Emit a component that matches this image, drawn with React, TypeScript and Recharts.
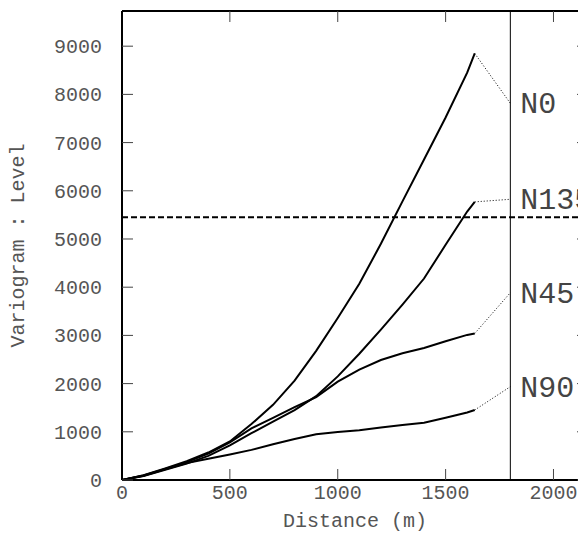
import {
  LineChart,
  Line,
  XAxis,
  YAxis,
  ReferenceLine,
} from "recharts";

// ---------------------------------------------------------------------------
// Data
// ---------------------------------------------------------------------------

const DISTANCES = [0, 100, 200, 300, 400, 500, 600, 700, 800, 900, 1000, 1100, 1200, 1300, 1400, 1500, 1600, 1635];

const N0_VALUES = [0, 100, 240, 390, 570, 800, 1160, 1560, 2060, 2680, 3360, 4070, 4900, 5780, 6650, 7520, 8450, 8850];
const N135_VALUES = [0, 85, 210, 340, 500, 720, 970, 1210, 1450, 1740, 2150, 2620, 3120, 3640, 4180, 4880, 5570, 5770];
const N45_VALUES = [0, 95, 230, 370, 550, 780, 1070, 1290, 1510, 1720, 2040, 2290, 2490, 2630, 2740, 2880, 3010, 3040];
const N90_VALUES = [0, 90, 220, 350, 440, 530, 625, 740, 850, 950, 995, 1030, 1090, 1140, 1190, 1290, 1400, 1452];

const SERIES_NAMES = ["N0", "N135", "N45", "N90"];
const SERIES_VALUES = [N0_VALUES, N135_VALUES, N45_VALUES, N90_VALUES];
// where each dotted leader meets the label column
const LABEL_ANCHORS = [7815, 5824, 3886, 1936];

const LABEL_X = 1800;
const SILL = 5450;
const X_TICKS = [0, 500, 1000, 1500, 2000];
const Y_TICKS = [0, 1000, 2000, 3000, 4000, 5000, 6000, 7000, 8000, 9000];
const X_MAX = 2160;
const Y_MAX = 9730;

// ---------------------------------------------------------------------------
// Styling
// ---------------------------------------------------------------------------

const FONT = "'Courier New', Courier, 'Liberation Mono', monospace";
const TEXT_FILL = "#555";
const AXIS_LINE = { stroke: "#000", strokeWidth: 2 };
const TICK_LINE = { stroke: "#444", strokeWidth: 1 };
const TICK_STYLE = { fontSize: 20, fill: TEXT_FILL, fontFamily: FONT };

const curves = SERIES_VALUES.map((vals) =>
  DISTANCES.map((d, i) => ({ d, v: vals[i] }))
);

const leaders = SERIES_VALUES.map((vals, i) => [
  { d: DISTANCES[DISTANCES.length - 1], v: vals[vals.length - 1] },
  { d: LABEL_X, v: LABEL_ANCHORS[i] },
]);

const blank = () => "";

export default function App() {
  return (
    <div style={{ width: 578, height: 530, overflow: "hidden" }}>
      <LineChart
        width={600}
        height={530}
        margin={{ top: 2, right: 0, bottom: 0, left: 0 }}
        style={{ fontFamily: FONT }}
      >
        <XAxis
          type="number"
          dataKey="d"
          domain={[0, X_MAX]}
          ticks={X_TICKS}
          allowDataOverflow
          height={58}
          axisLine={AXIS_LINE}
          tickLine={TICK_LINE}
          tickSize={-11}
          tickMargin={16}
          tick={TICK_STYLE}
          label={{
            value: "Distance (m)",
            position: "insideBottom",
            offset: 11,
            fontSize: 20,
            fill: TEXT_FILL,
            fontFamily: FONT,
          }}
        />
        <XAxis
          xAxisId="top"
          orientation="top"
          type="number"
          dataKey="d"
          domain={[0, X_MAX]}
          ticks={X_TICKS}
          allowDataOverflow
          height={1}
          axisLine={AXIS_LINE}
          tickLine={TICK_LINE}
          tickSize={-11}
          tickFormatter={blank}
        />
        <YAxis
          type="number"
          domain={[0, Y_MAX]}
          ticks={Y_TICKS}
          allowDataOverflow
          width={114}
          axisLine={AXIS_LINE}
          tickLine={TICK_LINE}
          tickSize={-11}
          tickMargin={31}
          tick={TICK_STYLE}
          label={{
            value: "Variogram : Level",
            angle: -90,
            position: "insideLeft",
            offset: 9,
            fontSize: 20,
            fill: TEXT_FILL,
            fontFamily: FONT,
            style: { textAnchor: "middle" },
          }}
        />
        <YAxis
          yAxisId="right"
          orientation="right"
          type="number"
          domain={[0, Y_MAX]}
          ticks={Y_TICKS}
          allowDataOverflow
          width={20}
          axisLine={AXIS_LINE}
          tickLine={TICK_LINE}
          tickSize={-11}
          tickFormatter={blank}
        />

        <ReferenceLine x={LABEL_X} stroke="#000" strokeWidth={1} />
        <ReferenceLine
          y={SILL}
          stroke="#000"
          strokeWidth={2}
          strokeDasharray="6 3"
        />

        {curves.map((data, i) => (
          <Line
            key={SERIES_NAMES[i]}
            data={data}
            dataKey="v"
            type="linear"
            stroke="#000"
            strokeWidth={2}
            dot={false}
            isAnimationActive={false}
          />
        ))}

        {leaders.map((data, i) => (
          <Line
            key={"lead-" + SERIES_NAMES[i]}
            data={data}
            dataKey="v"
            type="linear"
            stroke="#000"
            strokeWidth={1}
            strokeDasharray="1 2"
            dot={false}
            isAnimationActive={false}
            label={(p: any) =>
              p.index === 1 ? (
                <text
                  key={"lbl-" + i}
                  x={p.x + 10}
                  y={p.y + 2}
                  dominantBaseline="central"
                  fontSize={30}
                  fontFamily={FONT}
                  fill="#444"
                >
                  {SERIES_NAMES[i]}
                </text>
              ) : (
                <g key={"nolbl-" + i} />
              )
            }
          />
        ))}
      </LineChart>
    </div>
  );
}
